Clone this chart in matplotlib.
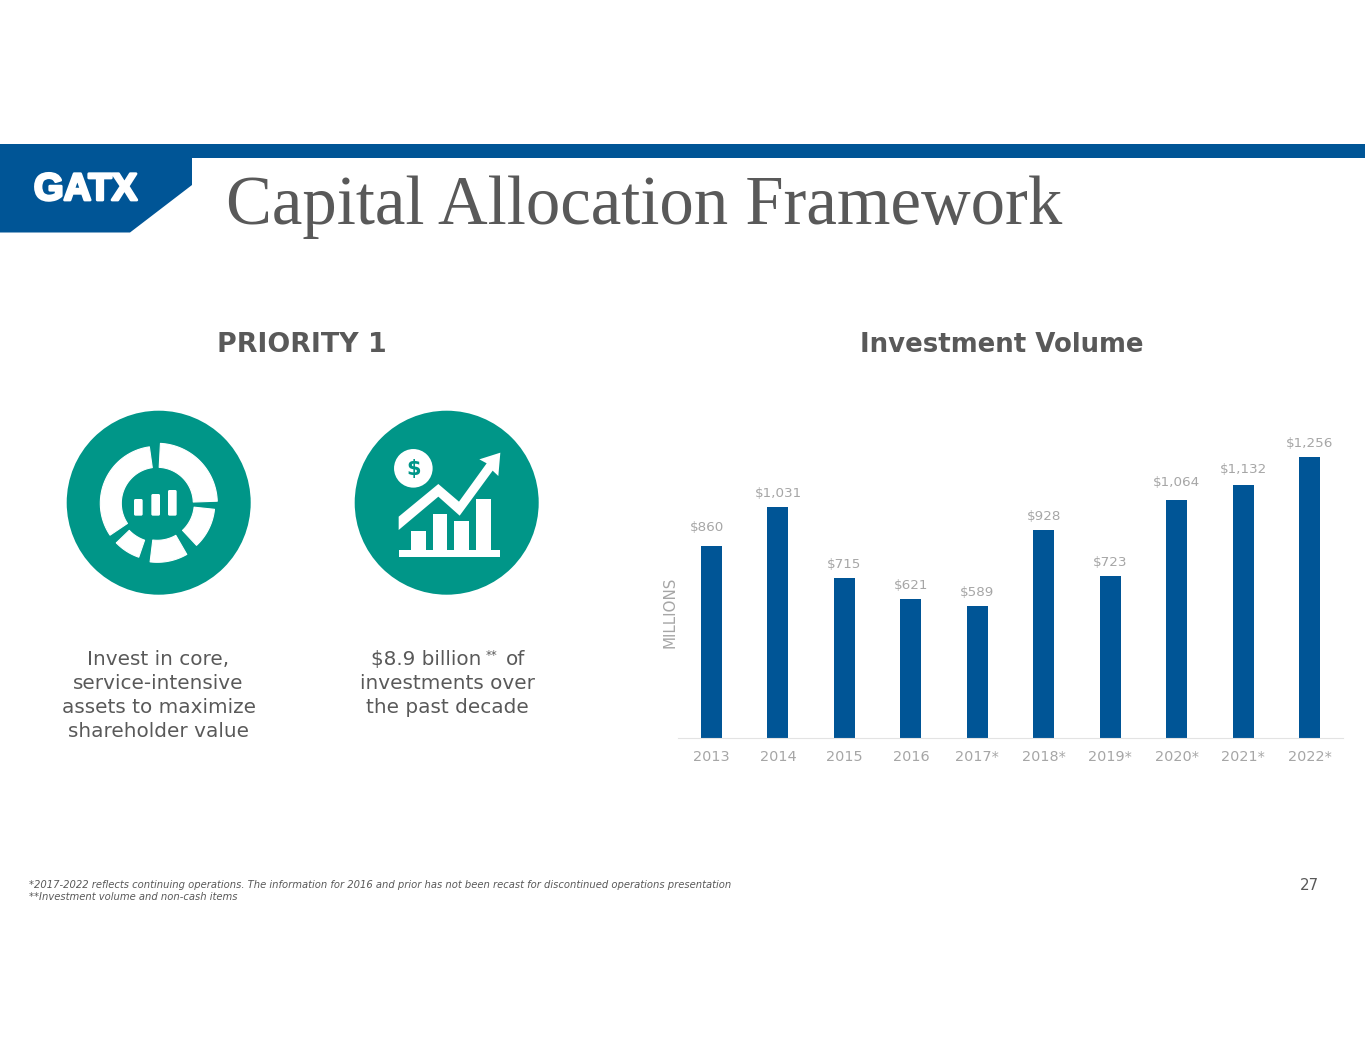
import numpy as np
import matplotlib
matplotlib.use("Agg")
import matplotlib.pyplot as plt
import matplotlib.patheffects as pe
from matplotlib import font_manager as fm
from matplotlib.patches import Circle, Polygon, Rectangle, FancyBboxPatch

years = ['2013', '2014', '2015', '2016', '2017*', '2018*', '2019*', '2020*', '2021*', '2022*']
investment = [860, 1031, 715, 621, 589, 928, 723, 1064, 1132, 1256]

NAVY = '#005596'
TEAL = '#009688'
GREY = '#595959'
LIGHT = '#A6A6A6'
W, H = 1365, 1055

fig = plt.figure(figsize=(W / 100, H / 100), dpi=100, facecolor='white')
bg = fig.add_axes([0, 0, 1, 1], xlim=(0, W), ylim=(H, 0))
bg.axis('off')


def T(x, y, s, **kw):
    kw.setdefault('ha', 'center')
    kw.setdefault('va', 'center')
    kw.setdefault('color', GREY)
    kw.setdefault('family', 'DejaVu Sans')
    return bg.text(x, y, s, parse_math=False, **kw)


# banner
bg.add_patch(Polygon([(0, 144), (W, 144), (W, 158), (192, 158), (192, 185), (130, 232.5), (0, 232.5)],
                     closed=True, fc=NAVY, ec='none'))
installed = {f.name for f in fm.fontManager.ttflist}
narrow = 'Liberation Sans Narrow' in installed
logo = T(85.5, 190, 'GATX', color='white', fontsize=33 if narrow else 27.5, fontweight='bold',
         family='Liberation Sans Narrow' if narrow else 'Liberation Sans')
logo.set_path_effects([pe.withStroke(linewidth=2, foreground='white')])
T(226, 224, 'Capital Allocation Framework', ha='left', va='baseline',
  fontsize=49.5, family='Liberation Serif', color=GREY)

# headings
T(302, 344.5, 'PRIORITY 1', fontsize=19.4, fontweight='bold')
T(1002, 344.5, 'Investment Volume', fontsize=18.75, fontweight='bold')

# icon 1
cx1, cy1 = 158.7, 502.7
bg.add_patch(Circle((cx1, cy1), 92, fc=TEAL, ec='none'))
rx, ry = 157.3, 503.3


def seg(a0, a1, r0, r1):
    t = np.radians(np.linspace(a0, a1, 40))
    outer = np.c_[rx + r1 * np.sin(t), ry - r1 * np.cos(t)]
    inner = np.c_[rx + r0 * np.sin(t[::-1]), ry - r0 * np.cos(t[::-1])]
    bg.add_patch(Polygon(np.r_[outer, inner], closed=True, fc='white', ec='white', lw=0.8, joinstyle='round'))


seg(3, 88, 36, 60)
seg(96, 137, 37, 57.5)
seg(150, 187, 37, 59)
seg(199, 226, 39, 57)
seg(236, 352, 36, 57)
for x0, y0, x1, y1 in [(252, 297, 278, 347), (304, 282, 330, 347), (354, 270, 380, 347)]:
    x0, x1 = x0 / 3 + 50, x1 / 3 + 50
    y0, y1 = y0 / 3 + 400, y1 / 3 + 400
    bg.add_patch(FancyBboxPatch((x0 + 1, y0 + 1), x1 - x0 - 2, y1 - y0 - 2,
                                boxstyle='round,pad=1,rounding_size=1.5', fc='white', ec='none'))

# icon 2
bg.add_patch(Circle((446.7, 502.7), 92, fc=TEAL, ec='none'))


def z(x, y):
    return (x / 3 + 50, y / 3 + 400)


for x0, y0, x1, y1 in [(1046, 450, 1351, 471), (1082, 392, 1127, 450), (1148, 342, 1192, 450),
                       (1213, 362, 1257, 450), (1278, 297, 1322, 450)]:
    a, b = z(x0, y0), z(x1, y1)
    bg.add_patch(Rectangle(a, b[0] - a[0], b[1] - a[1], fc='white', ec='none'))
arrow = [(1046, 350), (1165, 252), (1227, 305), (1310, 190), (1288, 178), (1351, 158), (1345, 228),
         (1328, 212), (1229, 347), (1165, 290), (1046, 390)]
bg.add_patch(Polygon([z(*p) for p in arrow], closed=True, fc='white', ec='none'))
bg.add_patch(Circle(z(1090, 205), 19.3, fc='white', ec='none'))
T(413.3, 468.5, '$', color=TEAL, fontsize=15, fontweight='bold')

# body text
for i, s in enumerate(['Invest in core,', 'service-intensive', 'assets to maximize', 'shareholder value']):
    T(158.5, 659.5 + 24 * i, s, fontsize=14.4)
T(371, 659.5, '$8.9 billion', ha='left', fontsize=14.4)
T(485.5, 655.5, '**', ha='left', fontsize=8.5)
T(505.5, 659.5, 'of', ha='left', fontsize=14.4)
T(447.5, 683.5, 'investments over', fontsize=14.4)
T(447.5, 707.5, 'the past decade', fontsize=14.4)

# chart
px_per_unit = 192.5 / 860
ax_top, ax_bot, ax_l, ax_r = 420, 738, 678.3, 1342.7
ax = fig.add_axes([ax_l / W, 1 - ax_bot / H, (ax_r - ax_l) / W, (ax_bot - ax_top) / H], facecolor='none')
xpos = np.arange(len(years))
ax.bar(xpos, investment, width=0.315, color=NAVY, linewidth=0)
ax.set_xlim(-0.5, len(years) - 0.5)
ax.set_ylim(0, (ax_bot - ax_top) / px_per_unit)
ax.set_yticks([])
ax.set_xticks(xpos, years)
ax.tick_params(axis='x', length=0, pad=8.5, labelsize=10.4, labelcolor=LIGHT)
for s in ['top', 'left', 'right']:
    ax.spines[s].set_visible(False)
ax.spines['bottom'].set_color('#E3E3E3')
ax.spines['bottom'].set_linewidth(0.8)
# label nudges in points, as placed by hand in the original slide
nudge_x = [-3, 0, 0, 0, 0, 0, 0, 0, 0, 0]
nudge_y = [8.5, 5, 5, 5, 5, 5, 5, 7.5, 6, 5]
for x, v, nx, ny in zip(xpos, investment, nudge_x, nudge_y):
    ax.annotate(f'${v:,}', (x, v), xytext=(nx, ny), textcoords='offset points',
                ha='center', va='bottom', fontsize=9.7, color=LIGHT, parse_math=False)
T(669.5, 612, 'MILLIONS', rotation=90, fontsize=10.9, color=LIGHT)

# footer
T(29, 885, '*2017-2022 reflects continuing operations. The information for 2016 and prior has not been recast for discontinued operations presentation',
  ha='left', fontsize=7.17, style='italic')
T(29, 897, '**Investment volume and non-cash items', ha='left', fontsize=7.17, style='italic')
T(1309.5, 885.5, '27', fontsize=10.8)

fig.savefig('out.png', dpi=100, facecolor='white')
